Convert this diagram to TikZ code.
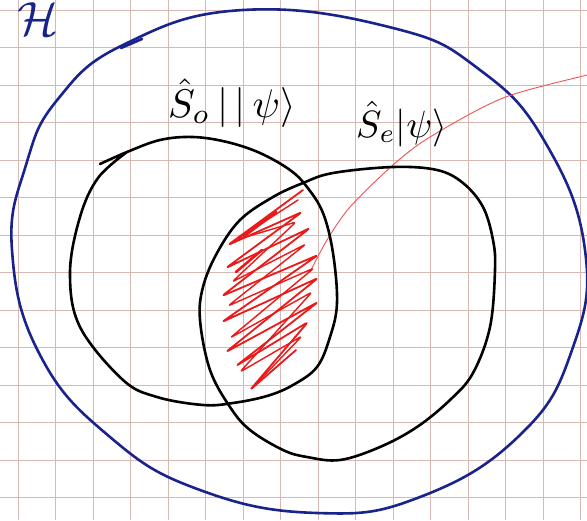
\documentclass[tikz,border=0pt]{standalone}
\usepackage{graphicx}
\usepackage{amsmath}
\begin{document}
\begin{tikzpicture}[x=1pt,y=-1pt]
\definecolor{gridc}{RGB}{215,185,180}
\definecolor{penblue}{RGB}{25,35,140}
\definecolor{penred}{RGB}{235,25,25}
\tikzset{
  gridline/.style={draw=gridc,line width=0.9pt},
  inkblack/.style={draw=black,line width=2.6pt,line cap=round,line join=round},
  inkblue/.style={draw=penblue,line width=2.6pt,line cap=round,line join=round},
  hatch/.style={draw=penred,line width=1.8pt,line cap=round,line join=round,rounded corners=3pt},
  thinred/.style={draw=penred!75!white,line width=0.9pt},
  hand/.style={inner sep=0pt}
}
\useasboundingbox (0,0) rectangle (587,520);
\fill[white] (0,0) rectangle (587,520);
\begin{scope}
\clip (0,0) rectangle (587,520);
% grid paper
\foreach \i in {0,...,15} {\draw[gridline] (18+37.5*\i,0) -- (18+37.5*\i,520);}
\foreach \j in {0,...,13} {\draw[gridline] (0,10+37.5*\j) -- (587,10+37.5*\j);}
% Hilbert space label
\node[hand,text=penblue,anchor=south] (H) at (38,36) {\scalebox{4.8}{$\mathcal{H}$}};
% big blue outline
\draw[inkblue] plot[smooth cycle,tension=0.75] coordinates {
 (58,99) (125,44) (243,10) (393,28) (480,70) (545,142)
 (585,250) (572,350) (520,435) (420,497) (317,513)
 (200,490) (110,437) (40,355) (12,250) (26,165)};
\draw[inkblue] (121,48) -- (142,39);
% thin red line
\draw[thinred] plot[smooth,tension=0.5] coordinates {(600,72) (587,75) (503,98) (430,137) (393,165) (350,207) (327,240) (310,272)};
% red hatching in the intersection
\draw[hatch] (303,190) -- (228,245) -- (302,212) -- (226,268) -- (310,228) -- (222,296)
  -- (318,255) -- (222,322) -- (318,278) -- (226,352) -- (318,302) -- (236,366)
  -- (308,322) -- (250,390) -- (296,350);
\draw[hatch,line width=1.4pt] (298,200) -- (236,240) -- (296,222) -- (232,282) -- (306,244)
  -- (228,306) -- (314,268) -- (230,338) -- (312,292) -- (240,372) -- (302,336) -- (256,384);
\draw[hatch,line width=3pt] (276,212) -- (244,236);
\draw[hatch,line width=2.6pt] (262,250) -- (236,272);
% left set S_o
\draw[inkblack] plot[smooth,tension=0.6] coordinates {
 (100,164) (127,152) (160,140) (193,137) (227,142) (260,153) (290,170) (307,187)
 (323,213) (333,253) (337,303) (330,337) (317,367) (293,385) (267,396) (233,403)
 (203,405) (157,397) (123,380) (80,327) (70,273) (80,217) (98,178) (127,152)};
% right set S_e
\draw[inkblack] plot[smooth cycle,tension=0.6] coordinates {
 (303,183) (333,173) (393,167) (437,170) (463,183) (483,207) (493,240) (495,270)
 (490,327) (473,373) (450,400) (417,427) (380,447) (340,460) (307,457) (283,450)
 (250,430) (230,407) (210,370) (200,320) (203,287) (217,253) (240,220) (273,197)};
% labels
\node[hand,anchor=base west] (lo) at (168,117) {\scalebox{4}{$\hat{S}_{o}\,|\,|\,\psi\rangle$}};
\node[hand,anchor=base west] (le) at (356,137) {\scalebox{3.8}{$\hat{S}_{e}|\psi\rangle$}};
\end{scope}
\end{tikzpicture}
\end{document}
